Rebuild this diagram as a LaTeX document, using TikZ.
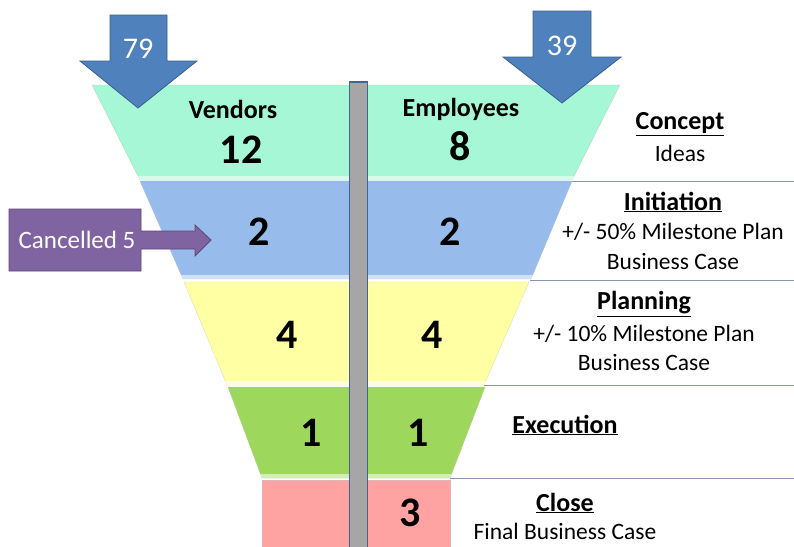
\documentclass[tikz,border=0pt]{standalone}
\usepackage{fontspec}
\setmainfont{Carlito}
\definecolor{cMint}{RGB}{166,247,214}
\definecolor{cBlue}{RGB}{151,187,235}
\definecolor{cYel}{RGB}{255,255,163}
\definecolor{cGreen}{RGB}{157,216,92}
\definecolor{cPink}{RGB}{255,162,162}
\definecolor{cBar}{RGB}{166,166,166}
\definecolor{cBarEdge}{RGB}{66,100,150}
\definecolor{cArrow}{RGB}{79,129,189}
\definecolor{cArrowEdge}{RGB}{58,95,140}
\definecolor{cPurple}{RGB}{128,100,162}
\definecolor{cPurpleEdge}{RGB}{92,71,118}
\definecolor{cSep}{RGB}{132,150,178}
\begin{document}
\begin{tikzpicture}[x=1pt,y=-1pt,
  band/.style={draw=#1!80!black!60, line width=0.4pt, fill=#1},
  shine/.style={fill=white, fill opacity=0.55, draw=none},
  sep/.style={draw=cSep, line width=0.8pt},
  bigarrow/.style={fill=cArrow, draw=cArrowEdge, line width=0.8pt},
  purparrow/.style={fill=cPurple, draw=cPurpleEdge, line width=0.8pt},
  lab/.style={font=\fontsize{26}{28}\selectfont\bfseries, inner sep=0pt},
  num/.style={font=\fontsize{42}{44}\selectfont\bfseries, inner sep=0pt},
  stage/.style={font=\fontsize{26}{28}\selectfont\bfseries, inner sep=0pt},
  desc/.style={font=\fontsize{23.5}{26}\selectfont, inner sep=0pt},
  wlab/.style={font=\fontsize{30}{32}\selectfont, text=white, inner sep=0pt},
  clab/.style={font=\fontsize{25}{27}\selectfont, text=white, inner sep=0pt}
]
\useasboundingbox (0,0) rectangle (794,546);
\fill[white] (0,0) rectangle (794,546);

% separator lines
\draw[sep] (572,181) -- (794,181);
\draw[sep] (530,280) -- (794,280);
\draw[sep] (484,385) -- (794,385);
\draw[sep] (450,478) -- (794,478);

% bands
\draw[band=cMint] (92,85) -- (620,85) -- (572,180) -- (140,180) -- cycle;
\fill[shine] (138,176) -- (574,176) -- (572,180) -- (140,180) -- cycle;
\draw[band=cBlue] (140,181) -- (572,181) -- (531,279) -- (183,279) -- cycle;
\fill[shine] (181,275) -- (533,275) -- (531,280) -- (183,280) -- cycle;
\draw[band=cYel] (184,282) -- (529,282) -- (484,385) -- (227,385) -- cycle;
\fill[shine] (225,381) -- (486,381) -- (484,385) -- (227,385) -- cycle;
\draw[band=cGreen] (228,387) -- (485,387) -- (450,478) -- (262,478) -- cycle;
\fill[shine] (260,474) -- (452,474) -- (450,478) -- (262,478) -- cycle;
\draw[band=cPink] (262,480) rectangle (450,550);

% centre bar
\draw[fill=cBar, draw=cBarEdge, line width=1.6pt] (349.5,82) rectangle (367.5,552);

% big arrows
\draw[bigarrow] (110,15) -- (167,15) -- (167,61) -- (197,61) -- (138,108) -- (80,61) -- (110,61) -- cycle;
\node[wlab] (n79) at (138,49) {79};
\draw[bigarrow] (533,11) -- (591,11) -- (591,57) -- (621,57) -- (562,103) -- (503,57) -- (533,57) -- cycle;
\node[wlab] (n39) at (562,46) {39};

% cancelled arrow
\draw[purparrow] (9,209) -- (141,209) -- (141,231) -- (195,231) -- (195,225) -- (211,240) -- (195,256) -- (195,249) -- (141,249) -- (141,271) -- (9,271) -- cycle;
\node[clab] (canc) at (77,240) {Cancelled 5};

% funnel texts
\node[lab] (vend) at (233,109) {Vendors};
\node[lab] (empl) at (461,109) {Employees};
\node[num] (v12) at (241,150) {12};
\node[num] (e8) at (460,146) {8};
\node[num] (v2) at (259,232) {2};
\node[num] (e2) at (450,232) {2};
\node[num] (v4) at (287,335) {4};
\node[num] (e4) at (432,335) {4};
\node[num] (v1) at (311,433) {1};
\node[num] (e1) at (418,433) {1};
\node[num] (e3) at (410,513) {3};

% stage texts
\node[stage] (concept) at (680,124) {\underline{Concept}};
\node[desc] (ideas) at (680,153) {Ideas};
\node[stage] (init) at (673,202) {\underline{Initiation}};
\node[desc] (init1) at (673,232) {+/- 50\% Milestone Plan};
\node[desc] (init2) at (673,261) {Business Case};
\node[stage] (plan) at (644,304) {\underline{Planning}};
\node[desc] (plan1) at (644,334) {+/- 10\% Milestone Plan};
\node[desc] (plan2) at (644,362) {Business Case};
\node[stage] (exec) at (565,425) {\underline{Execution}};
\node[stage] (close) at (565,503) {\underline{Close}};
\node[desc] (close1) at (565,531) {Final Business Case};
\end{tikzpicture}
\end{document}
